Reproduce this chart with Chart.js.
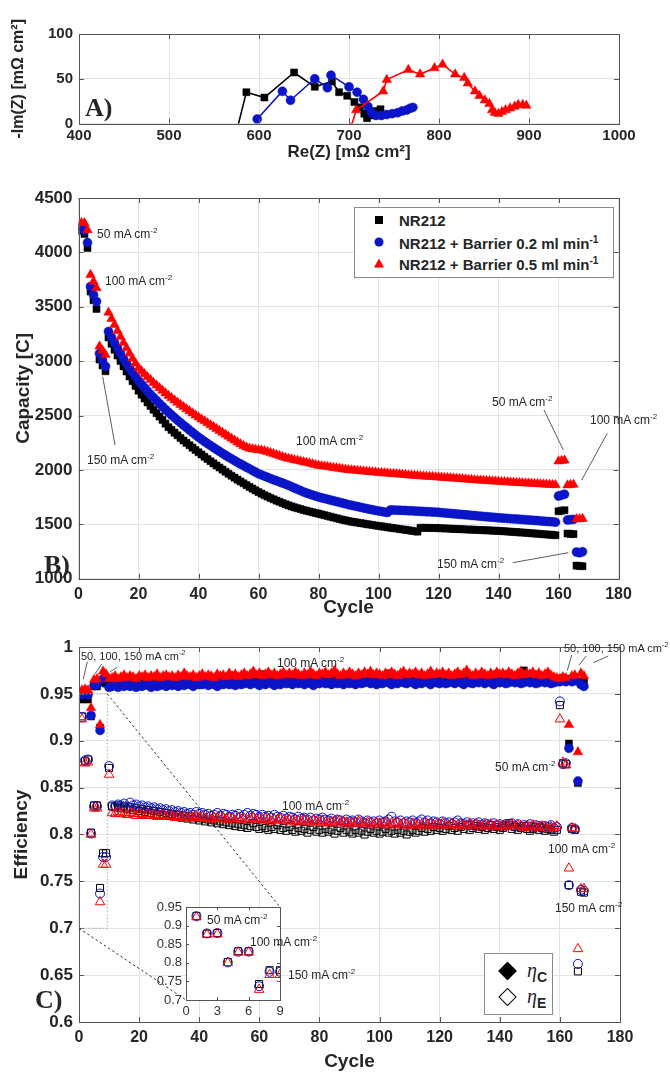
<!DOCTYPE html>
<html>
<head>
<meta charset="utf-8">
<script src="https://cdn.jsdelivr.net/npm/chart.js@4.4.1/dist/chart.umd.min.js"></script>
<style>
body{margin:0;background:#fff;width:670px;height:1074px;position:relative;overflow:hidden;font-family:'Liberation Sans',Arial,sans-serif;color:#262626;}
canvas{position:absolute;}
.lbl{position:absolute;white-space:nowrap;font-size:12px;line-height:1;transform:translateY(-50%);color:#262626;}
.lbl sup{font-size:8px;vertical-align:5px;}
.lbl.sm{font-size:11px;}
.lbl.sm sup{font-size:7.5px;}
.pan{position:absolute;font-family:'Liberation Serif',serif;font-weight:bold;font-size:26px;line-height:1;transform:translateY(-50%);}
.legend{position:absolute;background:#fff;border:1px solid #8a8a8a;}
.row{position:absolute;left:0;right:0;height:20px;transform:translateY(-50%);}
.row span.t{position:absolute;left:44px;top:2px;font-weight:bold;font-size:15px;white-space:nowrap;}
.row span.t sup{font-size:10px;vertical-align:6px;}
.mk{position:absolute;left:24px;top:10px;transform:translate(-50%,-50%);}
.sq{width:8px;height:8px;background:#000;}
.ci{width:9px;height:9px;border-radius:50%;background:#0a14c8;}
.tr{width:0;height:0;border-left:5px solid transparent;border-right:5px solid transparent;border-bottom:9px solid #f00;}
.dia{position:absolute;left:16px;width:11px;height:11px;border:1.5px solid #000;transform:translate(0,-50%) rotate(45deg);}
.eta{position:absolute;left:42px;font-family:'Liberation Serif',serif;font-style:italic;font-size:20px;transform:translateY(-50%);}
.eta b{font-family:'Liberation Sans',sans-serif;font-style:normal;font-size:14px;position:relative;top:5px;}
</style>
</head>
<body>
<canvas id="chartA" width="670" height="172" style="top:0;left:0"></canvas>
<canvas id="chartB" width="670" height="470" style="top:160px;left:0"></canvas>
<canvas id="chartC" width="670" height="444" style="top:630px;left:0"></canvas>
<canvas id="chartI" width="230" height="140" style="top:890px;left:140px"></canvas>

<div class="pan" style="left:85px;top:108px">A)</div>
<div class="pan" style="left:44px;top:565px">B)</div>
<div class="pan" style="left:35px;top:1000px">C)</div>

<div class="legend" style="left:354px;top:207px;width:258px;height:69px">
  <div class="row" style="top:12px"><div class="mk sq"></div><span class="t">NR212</span></div>
  <div class="row" style="top:34px"><div class="mk ci"></div><span class="t">NR212 + Barrier 0.2 ml min<sup>-1</sup></span></div>
  <div class="row" style="top:55px"><div class="mk tr"></div><span class="t">NR212 + Barrier 0.5 ml min<sup>-1</sup></span></div>
</div>

<div class="legend" style="left:484px;top:953px;width:67px;height:60px">
  <div class="dia" style="top:17px;background:#000"></div><div class="eta" style="top:16px">η<b>C</b></div>
  <div class="dia" style="top:43px;background:#fff;border-width:1px"></div><div class="eta" style="top:42px">η<b>E</b></div>
</div>

<div class="lbl" style="left:97px;top:233px">50 mA cm<sup>-2</sup></div>
<div class="lbl" style="left:105px;top:280px">100 mA cm<sup>-2</sup></div>
<div class="lbl" style="left:87px;top:459px">150 mA cm<sup>-2</sup></div>
<div class="lbl" style="left:296px;top:440px">100 mA cm<sup>-2</sup></div>
<div class="lbl" style="left:492px;top:401px">50 mA cm<sup>-2</sup></div>
<div class="lbl" style="left:590px;top:419px">100 mA cm<sup>-2</sup></div>
<div class="lbl" style="left:437px;top:563px">150 mA cm<sup>-2</sup></div>

<div class="lbl sm" style="left:81px;top:655px">50, 100, 150 mA cm<sup>-2</sup></div>
<div class="lbl" style="left:277px;top:662px">100 mA cm<sup>-2</sup></div>
<div class="lbl" style="left:282px;top:805px">100 mA cm<sup>-2</sup></div>
<div class="lbl" style="left:495px;top:766px">50 mA cm<sup>-2</sup></div>
<div class="lbl" style="left:548px;top:848px">100 mA cm<sup>-2</sup></div>
<div class="lbl" style="left:555px;top:907px">150 mA cm<sup>-2</sup></div>
<div class="lbl sm" style="left:564px;top:647px">50, 100, 150 mA cm<sup>-2</sup></div>
<div class="lbl" style="left:207px;top:919px">50 mA cm<sup>-2</sup></div>
<div class="lbl" style="left:250px;top:941px">100 mA cm<sup>-2</sup></div>
<div class="lbl" style="left:288px;top:974px">150 mA cm<sup>-2</sup></div>

<script>
// ---- A) impedance ----
var reBlack = [576, 586, 606, 639, 662, 681, 689, 698, 706, 712, 717, 720, 723, 728, 735];
var imBlack = [-5, 35, 29, 57, 41, 47, 35, 31, 24, 18, 11, 6, 9, 14, 16];
var reBlue = [598, 626, 635, 662, 676, 680, 700, 709, 716, 721, 725, 730, 736, 742, 748, 754, 759, 764, 768, 771];
var imBlue = [5, 36, 26, 50, 40, 54, 41, 35, 27, 19, 12, 9, 9, 10, 11, 12, 14, 15, 17, 18];
var reRed = [702, 708, 738, 742, 766, 779, 795, 804, 818, 828, 832, 840, 845, 851, 856, 859, 862, 866, 870, 874, 879, 884, 888, 893, 897];
var imRed = [-5, 15, 36, 49, 60, 55, 62, 66, 55, 51, 45, 36, 31, 26, 22, 15, 12, 11, 13, 15, 17, 19, 21, 21, 20];

// ---- B) capacity per cycle (1..168) ----
var cycles = [];
for (var i = 1; i <= 168; i++) cycles.push(i);

var capBlack = [4200,4170,4040,3640,3560,3480,3015,2960,2907,
3218,3160,3105,3052,3001,2952,2905,2860,2816,2772,2729,
2692,2656,2621,2587,2554,2522,2491,2460,2426,2393,
2368,2343,2318,2294,2271,2249,2227,2205,2184,2163,
2142,2121,2100,2080,2060,2041,2022,2003,1984,1965,
1947,1929,1911,1894,1877,1860,1844,1828,1812,1796,
1782,1768,1755,1742,1730,1718,1707,1696,1685,1674,
1665,1656,1648,1640,1632,1625,1618,1611,1604,1598,
1591,1584,1577,1570,1563,1556,1549,1542,1536,1530,
1525,1520,1516,1511,1507,1502,1498,1494,1489,1485,
1481,1477,1473,1469,1465,1461,1457,1453,1449,1445,
1441,1437,1433,1468,1468,1467,1467,1466,1466,1465,
1464,1462,1461,1460,1458,1457,1456,1455,1453,1452,
1451,1450,1448,1447,1446,1445,1444,1442,1441,1440,
1438,1436,1434,1432,1430,1428,1426,1424,1422,1420,
1418,1416,1414,1411,1409,1407,1405,1403,1400,
1620,1625,1630,1415,1412,1410,1120,1117,1115];

var capBlue = [4230,4200,4090,3686,3610,3548,3070,3010,2953,
3273,3220,3170,3120,3070,3022,2978,2937,2898,2859,2821,
2788,2756,2725,2695,2666,2638,2610,2583,2556,2530,
2505,2481,2457,2434,2411,2389,2366,2344,2322,2301,
2281,2261,2242,2224,2206,2188,2170,2152,2135,2118,
2102,2086,2070,2055,2040,2025,2010,1995,1980,1965,
1954,1943,1932,1921,1910,1900,1890,1880,1869,1858,
1846,1834,1822,1810,1798,1788,1778,1769,1760,1752,
1744,1737,1730,1723,1716,1709,1702,1695,1688,1681,
1675,1669,1663,1657,1651,1645,1639,1633,1628,1623,
1618,1613,1609,1632,1631,1630,1629,1628,1627,1625,
1624,1622,1621,1619,1618,1616,1615,1613,1612,1610,
1607,1605,1602,1600,1597,1595,1592,1590,1587,1585,
1582,1580,1577,1575,1572,1570,1567,1565,1562,1560,
1558,1556,1554,1552,1550,1548,1546,1544,1542,1540,
1538,1536,1534,1531,1529,1527,1525,1523,1520,
1760,1768,1776,1540,1543,1545,1245,1238,1248];

var capRed = [4272,4270,4206,3794,3732,3672,3136,3099,3060,
3448,3390,3335,3280,3225,3170,3120,3072,3025,2980,2938,
2910,2882,2855,2828,2802,2778,2754,2730,2706,2683,
2662,2641,2620,2600,2580,2560,2541,2522,2503,2485,
2467,2449,2431,2413,2396,2378,2361,2343,2325,2308,
2290,2272,2255,2238,2222,2208,2198,2192,2188,2184,
2180,2174,2166,2157,2148,2139,2130,2121,2112,2104,
2098,2092,2086,2080,2074,2068,2061,2054,2047,2041,
2037,2033,2029,2025,2021,2017,2013,2009,2005,2001,
1998,1996,1993,1991,1988,1986,1983,1981,1978,1975,
1973,1971,1969,1966,1964,1962,1960,1957,1955,1952,
1950,1948,1946,1944,1942,1940,1939,1937,1935,1933,
1931,1929,1927,1925,1923,1921,1919,1917,1915,1912,
1910,1908,1906,1904,1902,1900,1899,1897,1895,1893,
1891,1890,1888,1886,1885,1883,1881,1880,1878,1877,
1875,1873,1872,1870,1869,1867,1865,1864,1862,
2080,2085,2088,1860,1864,1866,1548,1550,1552];

// ---- C) coulombic (etaC) and energy (etaE) efficiency per cycle ----
var etaCBlack = [0.944,0.945,0.944,0.926,0.958,0.958,0.914,0.962,0.961,0.958,
0.960,0.961,0.959,0.962,0.961,0.960,0.963,0.961,0.962,0.960,
0.962,0.963,0.961,0.964,0.962,0.960,0.963,0.962,0.961,0.964,
0.963,0.961,0.964,0.962,0.965,0.963,0.962,0.964,0.966,0.963,
0.964,0.962,0.965,0.963,0.964,0.966,0.963,0.965,0.962,0.964,
0.966,0.964,0.963,0.965,0.967,0.964,0.966,0.963,0.968,0.965,
0.971,0.966,0.964,0.967,0.965,0.968,0.963,0.966,0.967,0.964,
0.966,0.968,0.965,0.963,0.967,0.966,0.964,0.968,0.965,0.967,
0.966,0.964,0.968,0.965,0.967,0.963,0.966,0.969,0.965,0.967,
0.964,0.966,0.968,0.965,0.963,0.967,0.966,0.964,0.968,0.966,
0.967,0.965,0.972,0.966,0.964,0.968,0.965,0.967,0.963,0.966,
0.968,0.965,0.967,0.964,0.966,0.969,0.965,0.967,0.964,0.966,
0.968,0.966,0.964,0.967,0.965,0.968,0.966,0.963,0.967,0.965,
0.969,0.966,0.964,0.967,0.965,0.968,0.966,0.964,0.967,0.965,
0.968,0.966,0.971,0.967,0.965,0.968,0.966,0.975,0.967,0.965,
0.968,0.966,0.964,0.967,0.965,0.968,0.966,0.964,0.966,
0.966,0.967,0.966,0.897,0.966,0.968,0.855,0.964,0.963];

var etaCBlue = [0.949,0.950,0.949,0.927,0.959,0.960,0.911,0.966,0.968,0.957,
0.958,0.959,0.957,0.959,0.958,0.960,0.958,0.959,0.957,0.959,
0.958,0.960,0.959,0.957,0.960,0.958,0.959,0.961,0.958,0.960,
0.959,0.961,0.958,0.960,0.959,0.961,0.960,0.958,0.961,0.960,
0.960,0.962,0.959,0.961,0.960,0.958,0.961,0.960,0.962,0.960,
0.961,0.959,0.962,0.960,0.961,0.963,0.960,0.962,0.961,0.959,
0.962,0.960,0.963,0.961,0.959,0.962,0.960,0.963,0.961,0.962,
0.960,0.963,0.961,0.962,0.960,0.963,0.961,0.959,0.962,0.961,
0.963,0.961,0.962,0.960,0.963,0.961,0.962,0.960,0.963,0.961,
0.962,0.960,0.963,0.961,0.962,0.964,0.961,0.963,0.960,0.962,
0.961,0.963,0.962,0.960,0.963,0.961,0.964,0.962,0.961,0.963,
0.962,0.960,0.963,0.961,0.964,0.962,0.960,0.963,0.962,0.961,
0.963,0.961,0.962,0.964,0.961,0.963,0.962,0.960,0.963,0.962,
0.961,0.963,0.962,0.964,0.961,0.963,0.962,0.960,0.963,0.962,
0.963,0.961,0.962,0.964,0.962,0.963,0.961,0.962,0.964,0.962,
0.963,0.961,0.962,0.964,0.962,0.963,0.961,0.962,0.963,
0.963,0.964,0.963,0.892,0.963,0.964,0.857,0.960,0.958];

var etaCRed = [0.954,0.955,0.954,0.935,0.965,0.966,0.917,0.974,0.971,0.966,
0.967,0.969,0.966,0.968,0.970,0.967,0.969,0.968,0.966,0.969,
0.968,0.970,0.967,0.969,0.968,0.971,0.967,0.969,0.970,0.968,
0.969,0.967,0.970,0.968,0.972,0.969,0.968,0.970,0.967,0.969,
0.971,0.968,0.970,0.969,0.967,0.971,0.969,0.970,0.968,0.972,
0.969,0.971,0.968,0.970,0.972,0.969,0.971,0.974,0.970,0.972,
0.969,0.971,0.973,0.970,0.972,0.969,0.971,0.973,0.970,0.972,
0.970,0.973,0.971,0.969,0.972,0.970,0.974,0.971,0.969,0.972,
0.971,0.973,0.970,0.972,0.975,0.971,0.969,0.972,0.970,0.973,
0.971,0.969,0.972,0.970,0.973,0.971,0.974,0.970,0.972,0.971,
0.969,0.972,0.970,0.973,0.971,0.969,0.972,0.974,0.970,0.972,
0.971,0.973,0.970,0.972,0.969,0.971,0.974,0.970,0.972,0.971,
0.973,0.970,0.972,0.969,0.971,0.973,0.970,0.972,0.975,0.971,
0.969,0.972,0.970,0.973,0.971,0.969,0.972,0.970,0.973,0.971,
0.972,0.970,0.973,0.971,0.969,0.972,0.974,0.970,0.972,0.971,
0.973,0.970,0.972,0.969,0.971,0.973,0.970,0.968,0.967,
0.966,0.968,0.967,0.917,0.969,0.970,0.888,0.972,0.969];

var etaEBlack = [0.926,0.878,0.880,0.802,0.831,0.831,0.743,0.780,0.780,0.871,
0.830,0.829,0.831,0.828,0.830,0.827,0.829,0.826,0.828,0.825,
0.827,0.824,0.826,0.823,0.825,0.822,0.824,0.821,0.823,0.820,
0.822,0.819,0.821,0.818,0.820,0.817,0.819,0.816,0.818,0.815,
0.817,0.814,0.816,0.813,0.815,0.812,0.814,0.811,0.813,0.810,
0.812,0.809,0.811,0.808,0.810,0.807,0.809,0.812,0.808,0.806,
0.809,0.807,0.805,0.808,0.806,0.810,0.805,0.807,0.804,0.808,
0.805,0.803,0.807,0.804,0.806,0.802,0.805,0.808,0.803,0.805,
0.802,0.806,0.803,0.805,0.801,0.804,0.807,0.802,0.805,0.803,
0.801,0.805,0.802,0.804,0.800,0.803,0.806,0.802,0.804,0.801,
0.803,0.806,0.802,0.804,0.801,0.805,0.802,0.804,0.800,0.803,
0.805,0.802,0.804,0.807,0.803,0.806,0.804,0.808,0.805,0.807,
0.804,0.806,0.809,0.805,0.807,0.804,0.808,0.806,0.810,0.805,
0.807,0.809,0.806,0.808,0.805,0.807,0.810,0.806,0.808,0.805,
0.807,0.809,0.812,0.806,0.808,0.805,0.807,0.809,0.806,0.804,
0.806,0.808,0.805,0.807,0.804,0.806,0.805,0.803,0.805,
0.938,0.876,0.875,0.746,0.806,0.805,0.654,0.739,0.738];

var etaEBlue = [0.925,0.879,0.880,0.801,0.830,0.830,0.737,0.776,0.776,0.873,
0.831,0.830,0.832,0.831,0.833,0.830,0.834,0.831,0.832,0.830,
0.831,0.829,0.830,0.828,0.829,0.827,0.828,0.826,0.827,0.825,
0.826,0.824,0.825,0.823,0.824,0.822,0.823,0.821,0.824,0.822,
0.823,0.821,0.822,0.820,0.821,0.823,0.820,0.822,0.821,0.819,
0.821,0.820,0.822,0.819,0.821,0.823,0.820,0.822,0.821,0.819,
0.821,0.819,0.820,0.818,0.821,0.819,0.818,0.820,0.817,0.819,
0.818,0.816,0.819,0.817,0.818,0.816,0.818,0.815,0.817,0.816,
0.818,0.816,0.815,0.817,0.814,0.816,0.815,0.813,0.816,0.814,
0.815,0.813,0.816,0.814,0.812,0.815,0.813,0.814,0.812,0.815,
0.813,0.814,0.816,0.819,0.814,0.813,0.815,0.812,0.814,0.813,
0.815,0.812,0.814,0.816,0.813,0.815,0.812,0.814,0.813,0.811,
0.814,0.812,0.813,0.811,0.813,0.815,0.812,0.811,0.813,0.810,
0.812,0.811,0.813,0.810,0.812,0.811,0.809,0.812,0.810,0.811,
0.809,0.811,0.810,0.812,0.809,0.811,0.808,0.810,0.809,0.811,
0.808,0.810,0.809,0.807,0.809,0.808,0.810,0.807,0.808,
0.942,0.875,0.876,0.746,0.807,0.806,0.662,0.741,0.740];

var etaERed = [0.923,0.876,0.877,0.800,0.828,0.828,0.728,0.768,0.768,0.864,
0.823,0.822,0.824,0.822,0.823,0.821,0.823,0.822,0.820,0.822,
0.821,0.820,0.822,0.820,0.821,0.819,0.820,0.821,0.819,0.820,
0.819,0.818,0.820,0.818,0.819,0.817,0.819,0.818,0.820,0.818,
0.819,0.817,0.818,0.816,0.818,0.817,0.819,0.817,0.816,0.818,
0.817,0.815,0.818,0.816,0.817,0.815,0.817,0.818,0.816,0.817,
0.815,0.817,0.816,0.814,0.816,0.815,0.817,0.815,0.814,0.816,
0.815,0.813,0.815,0.814,0.816,0.814,0.813,0.815,0.814,0.813,
0.815,0.813,0.812,0.814,0.813,0.815,0.812,0.814,0.813,0.811,
0.813,0.812,0.814,0.812,0.811,0.813,0.812,0.810,0.813,0.812,
0.811,0.813,0.810,0.812,0.811,0.813,0.810,0.812,0.811,0.809,
0.812,0.810,0.811,0.809,0.812,0.810,0.811,0.809,0.811,0.810,
0.812,0.810,0.809,0.811,0.810,0.808,0.811,0.809,0.810,0.812,
0.809,0.811,0.810,0.808,0.810,0.809,0.811,0.808,0.810,0.809,
0.808,0.810,0.809,0.811,0.808,0.810,0.809,0.807,0.809,0.808,
0.810,0.808,0.807,0.809,0.808,0.806,0.808,0.807,0.809,
0.923,0.877,0.874,0.764,0.807,0.806,0.678,0.742,0.742];

var insetCycles = 9; // inset shows the first nine cycles

var BLACK = '#000000', BLUE = '#0a14c8', RED = '#ff0000';
var FONT = "'Liberation Sans', Arial, sans-serif";
var TXT = '#262626', GRID = '#e3e3e3';

function pts(xs, ys, n) {
  var out = [];
  for (var k = 0; k < (n || ys.length); k++) out.push({x: xs[k], y: ys[k]});
  return out;
}

function fmt(v) { return String(+(+v).toFixed(2)); }

var frame = {
  id: 'frame',
  beforeDraw: function(chart, args, o) {
    if (!o.fill) return;
    var a = chart.chartArea, ctx = chart.ctx;
    ctx.save(); ctx.fillStyle = '#fff'; ctx.fillRect(a.left, a.top, a.width, a.height); ctx.restore();
  },
  afterDraw: function(chart, args, o) {
    var ctx = chart.ctx, a = chart.chartArea, sx = chart.scales.x, sy = chart.scales.y;
    var len = o.len || 5;
    ctx.save();
    ctx.strokeStyle = o.color || '#555';
    ctx.lineWidth = 1;
    ctx.beginPath();
    sx.ticks.forEach(function(t) {
      var p = Math.round(sx.getPixelForValue(t.value)) + 0.5;
      ctx.moveTo(p, a.bottom); ctx.lineTo(p, a.bottom - len);
      ctx.moveTo(p, a.top); ctx.lineTo(p, a.top + len);
    });
    sy.ticks.forEach(function(t) {
      var p = Math.round(sy.getPixelForValue(t.value)) + 0.5;
      ctx.moveTo(a.left, p); ctx.lineTo(a.left + len, p);
      ctx.moveTo(a.right, p); ctx.lineTo(a.right - len, p);
    });
    ctx.stroke();
    ctx.strokeRect(Math.round(a.left) + 0.5, Math.round(a.top) + 0.5, Math.round(a.width), Math.round(a.height));
    // leader lines for the text notes, given in page coordinates
    (o.leaders || []).forEach(function(l) {
      ctx.beginPath();
      ctx.strokeStyle = '#333';
      ctx.lineWidth = 0.8;
      ctx.moveTo(l[0] - o.left, l[1] - o.top);
      ctx.lineTo(l[2] - o.left, l[3] - o.top);
      ctx.stroke();
    });
    ctx.restore();
  }
};

// zoom box on panel C and the lines to the inset corners
var zoomLinks = {
  id: 'zoomLinks',
  afterDraw: function(chart, args, o) {
    if (!o.on) return;
    var ctx = chart.ctx, sx = chart.scales.x, sy = chart.scales.y;
    var x0 = sx.getPixelForValue(0), x1 = sx.getPixelForValue(9.4);
    var y0 = sy.getPixelForValue(0.7), y1 = sy.getPixelForValue(0.95);
    ctx.save();
    ctx.strokeStyle = '#aaa'; ctx.lineWidth = 1; ctx.setLineDash([1.5, 2]);
    ctx.strokeRect(x0, y1, x1 - x0, y0 - y1);
    ctx.strokeStyle = '#333'; ctx.setLineDash([2.5, 2.5]);
    ctx.beginPath();
    ctx.moveTo(x1, y1); ctx.lineTo(o.tr[0], o.tr[1] - o.top);
    ctx.moveTo(x0, y0); ctx.lineTo(o.bl[0], o.bl[1] - o.top);
    ctx.stroke();
    ctx.restore();
  }
};

function linAxis(min, max, step, size, bold, extra) {
  var ax = {
    type: 'linear', min: min, max: max,
    grid: {color: GRID, drawTicks: false},
    border: {display: false},
    ticks: {stepSize: step, autoSkip: false, maxRotation: 0, padding: 6, color: TXT,
            font: {family: FONT, size: size, weight: bold ? 'bold' : 'normal'}, callback: fmt}
  };
  for (var k in extra) ax[k] = extra[k];
  return ax;
}

function axTitle(text, size, pad) {
  return {display: true, text: text, color: TXT, padding: pad, font: {family: FONT, size: size, weight: 'bold'}};
}

function base(padding, scales, plugins) {
  return {
    responsive: false, animation: false, devicePixelRatio: 1,
    layout: {padding: padding},
    scales: scales,
    plugins: Object.assign({legend: {display: false}, tooltip: {enabled: false}}, plugins)
  };
}

function markers(label, data, style, color, r, hollow, order) {
  return {
    label: label, data: data, order: order,
    pointStyle: style, pointRadius: r, pointHoverRadius: r,
    pointBackgroundColor: hollow ? 'rgba(0,0,0,0)' : color,
    pointBorderColor: color, pointBorderWidth: hollow ? 1 : 0.5,
    showLine: false
  };
}

// ---- panel A ----
function lineSet(label, xs, ys, style, color, r, order) {
  var d = markers(label, pts(xs, ys), style, color, r, false, order);
  d.showLine = true; d.borderColor = color; d.borderWidth = 1.6;
  return d;
}

new Chart(document.getElementById('chartA'), {
  type: 'scatter',
  data: {datasets: [
    lineSet('NR212 + Barrier 0.5 ml min-1', reRed, imRed, 'triangle', RED, 5.5, 1),
    lineSet('NR212 + Barrier 0.2 ml min-1', reBlue, imBlue, 'circle', BLUE, 4.5, 2),
    lineSet('NR212', reBlack, imBlack, 'rect', BLACK, 5, 3)
  ]},
  options: base({top: 34, right: 51, left: 0, bottom: 0}, {
    x: linAxis(400, 1000, 100, 15, true, {
      ticks: {stepSize: 100, autoSkip: false, maxRotation: 0, padding: 3, color: TXT,
              font: {family: FONT, size: 15, weight: 'bold'}, callback: fmt},
      title: axTitle('Re(Z) [mΩ cm²]', 17, {top: 0, bottom: 9}),
      afterFit: function(s) { s.height = 48.5; }
    }),
    y: linAxis(0, 100, 50, 15, true, {
      title: axTitle('-Im(Z) [mΩ cm²]', 16, {top: 9, bottom: 0}),
      afterFit: function(s) { s.width = 79; }
    })
  }, {frame: {}}),
  plugins: [frame]
});

// ---- panel B ----
new Chart(document.getElementById('chartB'), {
  type: 'scatter',
  data: {datasets: [
    markers('NR212 + Barrier 0.5 ml min-1', pts(cycles, capRed), 'triangle', RED, 5.5, false, 1),
    markers('NR212 + Barrier 0.2 ml min-1', pts(cycles, capBlue), 'circle', BLUE, 4.5, false, 2),
    markers('NR212', pts(cycles, capBlack), 'rect', BLACK, 5, false, 3)
  ]},
  options: base({top: 38, right: 51.5, left: 0, bottom: 0}, {
    x: linAxis(0, 180, 20, 16, true, {
      title: axTitle('Cycle', 19, {top: 0, bottom: 11}),
      afterFit: function(s) { s.height = 51.3; }
    }),
    y: linAxis(1000, 4500, 500, 17, true, {
      title: axTitle('Capacity [C]', 19, {top: 12, bottom: 0}),
      afterFit: function(s) { s.width = 78.5; }
    })
  }, {frame: {top: 160, left: 0, leaders: [
    [102.7, 376.7, 115, 445], [544, 410, 563.3, 450], [607.3, 433.3, 581.7, 480], [512.7, 562.7, 568.3, 552.7]
  ]}}),
  plugins: [frame]
});

// ---- panel C ----
var cDatasets = [
  markers('etaC 0.5', pts(cycles, etaCRed), 'triangle', RED, 5.5, false, 1),
  markers('etaC 0.2', pts(cycles, etaCBlue), 'circle', BLUE, 4.5, false, 2),
  markers('etaC NR212', pts(cycles, etaCBlack), 'rect', BLACK, 5, false, 3),
  markers('etaE 0.5', pts(cycles, etaERed), 'triangle', RED, 5.5, true, 4),
  markers('etaE 0.2', pts(cycles, etaEBlue), 'circle', BLUE, 4.5, true, 5),
  markers('etaE NR212', pts(cycles, etaEBlack), 'rect', BLACK, 5, true, 6)
];

new Chart(document.getElementById('chartC'), {
  type: 'scatter',
  data: {datasets: cDatasets},
  options: base({top: 17, right: 50, left: 0, bottom: 0}, {
    x: linAxis(0, 180, 20, 16, true, {
      title: axTitle('Cycle', 19, {top: 0, bottom: 1}),
      afterFit: function(s) { s.height = 52; }
    }),
    y: linAxis(0.6, 1, 0.05, 17, true, {
      title: axTitle('Efficiency', 19, {top: 10, bottom: 0}),
      afterFit: function(s) { s.width = 79; }
    })
  }, {
    frame: {top: 630, left: 0, leaders: [
      [87.3, 661.7, 83.3, 679.3], [101.7, 664, 95, 674], [117.3, 667.3, 110, 671.7],
      [571.7, 655, 567.3, 670.7], [586, 656, 579.3, 665], [608.3, 656, 593.3, 662.7]
    ]},
    zoomLinks: {on: true, top: 630, tr: [280, 907], bl: [186, 1000]}
  }),
  plugins: [frame, zoomLinks]
});

// ---- inset of panel C: first cycles, energy efficiency ----
new Chart(document.getElementById('chartI'), {
  type: 'scatter',
  data: {datasets: [
    markers('etaE 0.5', pts(cycles, etaERed, insetCycles), 'triangle', RED, 5.5, true, 1),
    markers('etaE 0.2', pts(cycles, etaEBlue, insetCycles), 'circle', BLUE, 4.5, true, 2),
    markers('etaE NR212', pts(cycles, etaEBlack, insetCycles), 'rect', BLACK, 5, true, 3)
  ]},
  options: base({top: 17, right: 90, left: 0, bottom: 0}, {
    x: linAxis(0, 9, 3, 13, false, {
      grid: {display: false, drawTicks: false},
      ticks: {stepSize: 3, autoSkip: false, padding: 4, color: '#333', font: {family: FONT, size: 13}},
      afterFit: function(s) { s.height = 30; }
    }),
    y: linAxis(0.7, 0.95, 0.05, 13, false, {
      grid: {display: false, drawTicks: false},
      ticks: {stepSize: 0.05, autoSkip: false, padding: 4, color: '#333', font: {family: FONT, size: 13}, callback: fmt},
      afterFit: function(s) { s.width = 46; }
    })
  }, {frame: {fill: true, len: 3}}),
  plugins: [frame]
});
</script>
</body>
</html>
